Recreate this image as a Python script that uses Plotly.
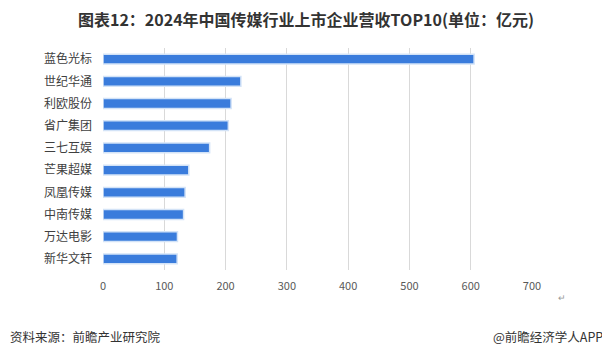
import plotly.graph_objects as go

companies = ["蓝色光标", "世纪华通", "利欧股份", "省广集团", "三七互娱",
             "芒果超媒", "凤凰传媒", "中南传媒", "万达电影", "新华文轩"]
revenue = [605.5, 225.0, 209.0, 204.5, 174.0, 140.0, 134.0, 131.5, 121.5, 121.0]
x_ticks = [0, 100, 200, 300, 400, 500, 600, 700]

FONT = "Noto Sans CJK SC"

# page has an 8px body margin; figure is sized/positioned to compensate
W, H = 602, 349
L, T, PW, PH = 95, 40, 429, 222

fig = go.Figure()
fig.add_trace(go.Bar(
    y=companies, x=revenue, orientation="h",
    marker=dict(color="#3a7cdc", line=dict(color="#d3e3f7", width=1.5)),
    hoverinfo="x+y",
))

fig.update_layout(
    width=W, height=H,
    paper_bgcolor="white", plot_bgcolor="white",
    margin=dict(l=L, r=W - L - PW, t=T, b=H - T - PH, autoexpand=False),
    bargap=0.56,
    showlegend=False,
    font=dict(family=FONT, color="#404040"),
    title=dict(text="<b>图表12：2024年中国传媒行业上市企业营收TOP10(单位：亿元)</b>",
               x=(306 - 8) / W, xanchor="center", y=1 - 12 / H, yanchor="middle",
               font=dict(size=16, color="#333333", family=FONT)),
    xaxis=dict(range=[0, 700], tickvals=x_ticks, showgrid=True,
               gridcolor="#d9d9d9", gridwidth=1, zeroline=False,
               showline=False, ticks="",
               tickfont=dict(size=11, color="#595959", family=FONT),
               ticklabelstandoff=8),
    yaxis=dict(autorange="reversed", showgrid=False, showline=False,
               ticks="", tickfont=dict(size=12, color="#404040", family=FONT),
               ticklabelstandoff=10),
    annotations=[
        dict(text="资料来源：前瞻产业研究院", xref="paper", yref="paper",
             x=(0 - L) / PW, y=-66 / PH, xanchor="left", yanchor="middle",
             showarrow=False, font=dict(size=12.5, color="#333333", family=FONT)),
        dict(text="@前瞻经济学人APP", xref="paper", yref="paper",
             x=(597 - L) / PW, y=-66 / PH, xanchor="right", yanchor="middle",
             showarrow=False, font=dict(size=12.5, color="#333333", family=FONT)),
        dict(text="↵", xref="paper", yref="paper",
             x=(554 - L) / PW, y=-27 / PH, xanchor="center", yanchor="middle",
             showarrow=False, font=dict(size=9, color="#999999", family=FONT)),
    ],
)

fig.write_html("out.html")
